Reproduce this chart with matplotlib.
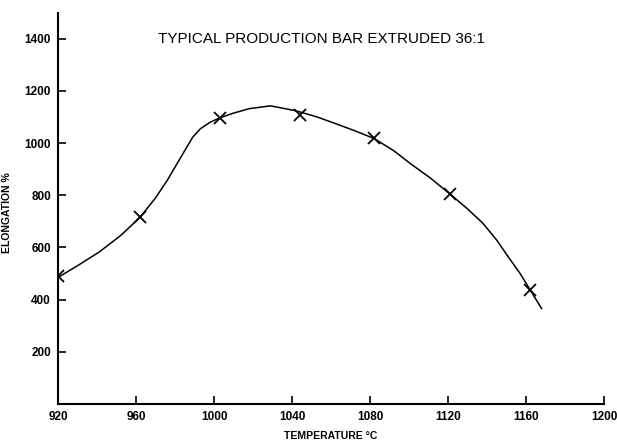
import matplotlib
matplotlib.use("Agg")
import matplotlib.pyplot as plt

# measured points (crosses)
temp_pts = [920, 962, 1003, 1044, 1082, 1121, 1162]
elong_pts = [490, 718, 1098, 1108, 1018, 806, 438]

# hand-drawn curve
curve_t = [920, 930, 941, 952, 962, 970, 976, 983, 989, 993, 998, 1003, 1010,
           1018, 1029, 1042, 1053, 1063, 1072, 1082, 1092, 1101, 1111, 1121,
           1130, 1138, 1145, 1151, 1157, 1162, 1168]
curve_e = [485, 530, 582, 645, 715, 790, 857, 946, 1022, 1055, 1080, 1097,
           1115, 1132, 1143, 1124, 1100, 1073, 1048, 1018, 972, 920, 866, 805,
           748, 692, 628, 563, 500, 439, 366]

x_ticks = [920, 960, 1000, 1040, 1080, 1120, 1160, 1200]
y_ticks = [200, 400, 600, 800, 1000, 1200, 1400]

title = "TYPICAL PRODUCTION BAR EXTRUDED 36:1"

plt.rcParams['font.family'] = ['Liberation Sans', 'DejaVu Sans']

fig = plt.figure(figsize=(6.17, 4.42), dpi=100)
ax = fig.add_axes([58 / 617, 38 / 442, 546 / 617, 391.3 / 442])

ax.plot(curve_t, curve_e, color='black', lw=1.1)
ax.plot(temp_pts, elong_pts, linestyle='none', marker='x', color='black',
        markersize=8, markeredgewidth=1.3)

ax.set_xlim(920, 1200)
ax.set_ylim(0, 1500)
ax.set_xticks(x_ticks)
ax.set_yticks(y_ticks)

for s in ['top', 'right']:
    ax.spines[s].set_visible(False)
for s in ['left', 'bottom']:
    ax.spines[s].set_linewidth(1.5)

ax.tick_params(axis='both', direction='in', length=6, width=1.2,
               labelsize=8.5, pad=5)
for lab in ax.get_xticklabels() + ax.get_yticklabels():
    lab.set_fontweight('bold')

ax.set_xlabel("TEMPERATURE °C", fontsize=7.5, fontweight='bold', labelpad=6)
ax.set_ylabel("ELONGATION %", fontsize=7.5, fontweight='bold')
ax.yaxis.set_label_coords(-0.084, 0.49)

ax.text(1055, 1400, title, ha='center', va='center', fontsize=11)

fig.savefig("out.png", dpi=100)
